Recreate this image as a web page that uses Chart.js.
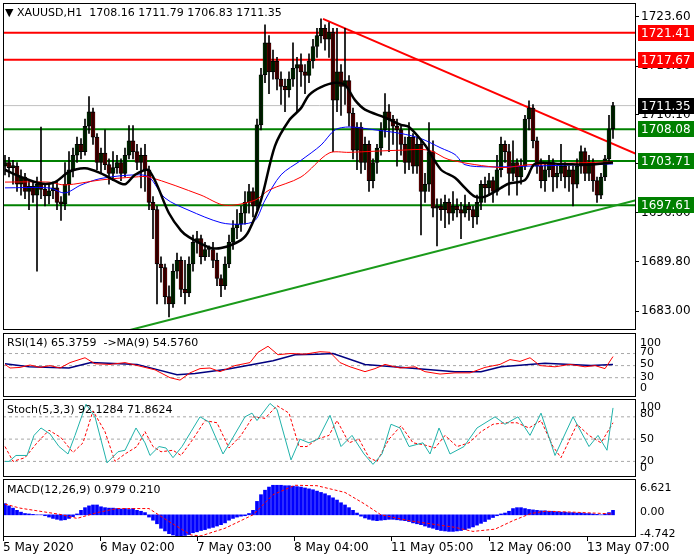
<!DOCTYPE html>
<html><head><meta charset="utf-8">
<script src="https://cdn.jsdelivr.net/npm/chart.js@4/dist/chart.umd.min.js"></script>
<style>
body{margin:0;width:700px;height:560px;background:#fff;position:relative;overflow:hidden;font-family:"DejaVu Sans",sans-serif}
canvas{position:absolute;left:0}
.t{position:absolute;font-size:11px;color:#000;white-space:pre}
</style></head><body>
<canvas id="cm" style="top:0px" width="700" height="333"></canvas>
<canvas id="cr" style="top:331px" width="700" height="68"></canvas>
<canvas id="cs" style="top:397px" width="700" height="82"></canvas>
<canvas id="cd" style="top:477px" width="700" height="83"></canvas>
<div class="t" style="left:5px;top:6px">▼ XAUUSD,H1  1708.16 1711.79 1706.83 1711.35</div>
<div class="t" style="left:7px;top:336px">RSI(14) 65.3759  -&gt;MA(9) 54.5760</div>
<div class="t" style="left:7px;top:403px">Stoch(5,3,3) 92.1284 71.8624</div>
<div class="t" style="left:7px;top:483px">MACD(12,26,9) 0.979 0.210</div>
<script>
const closes=[1703.5,1702.8,1703.0,1700.5,1701.5,1699.5,1700.2,1699.0,1700.5,1699.8,1698.9,1699.6,1700.0,1698.0,1697.8,1700.5,
1702.5,1704.5,1706.0,1705.0,1708.5,1710.5,1707.0,1703.5,1704.8,1703.2,1702.0,1702.8,1703.5,1702.0,1704.5,1706.5,
1705.0,1703.5,1704.5,1702.5,1698.0,1697.0,1689.5,1689.0,1685.0,1684.0,1688.5,1690.0,1686.0,1685.5,1689.5,1692.5,
1693.0,1690.5,1691.5,1691.5,1690.0,1687.5,1686.5,1689.5,1692.5,1694.5,1695.0,1696.5,1698.0,1699.5,1697.5,1708.7,
1715.6,1720.0,1716.0,1717.5,1715.0,1714.0,1713.5,1715.0,1716.5,1717.0,1716.0,1715.5,1717.5,1719.5,1721.0,1722.0,
1720.5,1721.5,1712.1,1716.0,1714.0,1714.8,1710.3,1705.2,1708.4,1703.5,1706.0,1701.0,1703.5,1705.5,1708.0,1710.5,
1709.5,1708.5,1708.0,1706.0,1703.5,1707.0,1703.0,1706.0,1699.5,1700.5,1705.0,1697.2,1697.5,1697.0,1698.0,1696.5,
1697.5,1697.0,1696.5,1697.5,1697.0,1696.0,1698.0,1700.5,1700.0,1701.0,1699.5,1702.5,1706.0,1705.0,1702.0,1703.5,
1701.5,1703.0,1709.5,1711.0,1706.5,1703.0,1701.0,1702.5,1703.5,1701.5,1702.0,1703.0,1701.5,1702.5,1700.5,1703.0,
1705.0,1702.0,1703.5,1701.0,1699.0,1701.5,1704.0,1708.16,1711.35];
const highs=[1704.5,1704.2,1703.8,1703.5,1702.5,1702.0,1701.0,1700.8,1701.5,1708.4,1700.5,1700.5,1700.8,1701.0,1698.8,1703.5,
1705.0,1705.5,1707.0,1706.8,1709.5,1712.6,1711.0,1707.5,1705.5,1708.0,1704.0,1705.0,1704.5,1704.0,1705.5,1708.6,
1708.6,1706.0,1705.5,1706.0,1703.0,1698.8,1697.5,1690.5,1689.5,1686.5,1689.5,1691.0,1690.5,1690.0,1690.5,1693.5,
1694.0,1693.5,1692.5,1692.0,1692.5,1691.0,1688.0,1690.5,1693.5,1695.5,1697.0,1697.5,1699.5,1700.5,1700.0,1709.5,
1716.5,1722.5,1721.0,1719.0,1718.0,1716.0,1715.0,1716.0,1720.0,1718.0,1718.5,1717.0,1718.5,1720.5,1722.0,1723.3,
1722.5,1722.8,1722.0,1722.0,1717.0,1722.0,1715.5,1711.0,1709.0,1709.0,1707.0,1706.5,1704.0,1706.0,1709.0,1713.0,
1711.5,1710.0,1709.5,1708.5,1707.0,1709.0,1707.5,1707.0,1706.5,1702.0,1709.0,1706.5,1698.5,1698.5,1699.0,1698.5,
1699.5,1698.5,1698.0,1699.0,1698.0,1697.5,1699.0,1701.0,1701.5,1702.0,1701.5,1704.5,1707.0,1706.5,1706.0,1706.5,
1704.0,1704.0,1710.0,1712.0,1711.5,1707.0,1704.0,1703.5,1704.5,1704.0,1703.0,1706.0,1703.5,1703.0,1703.0,1704.0,
1705.8,1705.5,1704.5,1704.0,1701.5,1702.0,1704.5,1710.0,1711.79];
const lows=[1701.8,1701.5,1700.5,1699.5,1699.0,1698.5,1697.0,1698.0,1688.5,1698.5,1697.5,1697.8,1698.5,1697.0,1695.5,1697.0,
1699.0,1701.5,1703.5,1704.0,1704.5,1707.5,1706.0,1702.5,1702.0,1702.5,1700.5,1701.0,1702.0,1701.0,1701.5,1704.0,
1704.0,1702.5,1700.0,1699.5,1697.0,1693.0,1684.0,1687.0,1684.0,1682.2,1683.5,1687.5,1685.0,1684.0,1685.0,1688.5,
1691.0,1689.5,1690.0,1690.5,1689.0,1686.5,1685.0,1686.0,1689.0,1691.5,1693.0,1694.0,1695.0,1696.5,1696.0,1697.0,
1708.0,1714.5,1713.0,1715.0,1713.5,1711.5,1710.5,1712.5,1714.0,1710.5,1714.0,1713.0,1714.5,1716.5,1718.0,1720.0,
1719.0,1718.0,1705.0,1710.5,1710.0,1711.5,1708.5,1704.0,1702.5,1702.0,1702.5,1699.5,1700.0,1702.0,1704.5,1707.0,
1705.0,1706.0,1703.0,1704.5,1702.0,1702.5,1702.0,1702.0,1693.5,1698.0,1699.5,1696.0,1692.0,1695.5,1694.5,1695.0,
1695.5,1696.0,1693.0,1696.0,1695.5,1694.5,1695.0,1697.0,1698.0,1699.0,1698.0,1699.0,1701.5,1703.5,1699.0,1701.0,
1699.0,1700.5,1702.5,1708.0,1705.5,1702.0,1700.0,1699.5,1701.5,1699.5,1700.0,1701.0,1700.0,1699.5,1697.5,1700.0,
1702.0,1701.0,1701.0,1699.5,1698.0,1698.5,1701.0,1703.5,1706.83];
const firstOpen=1703.0;
const maBlack=[[0,1702.5],[4,1701.5],[9,1700.6],[12.5,1700.8],[16,1702.2],[20,1702.7],[24,1702.0],[27.5,1701.0],[30,1700.5],[32.5,1701.8],[36,1702.4],[41,1696.5],[44,1694.1],[46,1693.2],[51,1691.8],[54,1691.7],[59,1692.8],[61,1694.1],[64,1698.3],[67.5,1705.8],[71,1709.3],[74,1711.0],[76,1712.8],[79,1713.9],[82.5,1714.5],[85,1714.2],[87.5,1712.1],[90,1710.8],[95,1709.7],[99,1708.7],[101,1708.4],[105,1705.9],[109,1702.5],[112.5,1701.4],[115,1700.0],[117.5,1698.8],[120,1698.8],[124,1700.0],[126,1700.6],[130,1701.1],[132.5,1703.3],[139,1703.3],[146,1703.2],[152,1703.5]];
const maBlue=[[0,1700.0],[11,1700.0],[15,1699.3],[19,1700.4],[24,1701.3],[32.5,1701.8],[36,1701.5],[40,1698.6],[46,1696.9],[54,1695.2],[59,1695.0],[62.5,1695.5],[65,1698.3],[69,1701.8],[74,1703.8],[79,1705.9],[82.5,1708.0],[86,1708.4],[92.5,1708.0],[99,1707.5],[104,1706.8],[109,1705.5],[112.5,1704.6],[115,1703.2],[121,1702.9],[131,1703.0],[152,1703.3]];
const maRed=[[0,1700.8],[11,1700.8],[15,1700.4],[24,1701.1],[32.5,1701.5],[36,1701.5],[49,1699.0],[55,1697.6],[62.5,1698.3],[66,1699.7],[74,1701.5],[81,1704.8],[86,1704.9],[99,1705.2],[106,1705.2],[111,1703.9],[124,1702.8],[131,1703.2],[152,1703.6]];
const resLevels=[1721.41,1717.67];
const supLevels=[1708.08,1703.71,1697.61];
const lastPrice=1711.35;
const redTrend=[[79.5,1723.3],[157.75,1704.7]];
const greenTrend=[[31.25,1680.4],[157.75,1698.3]];
const priceTicks=[1723.60,1716.80,1710.10,1703.30,1696.60,1689.80,1683.00];
const rsiLevels=[70,50,30];
const rsiTickPos=[88,72,53,31,13];const rsiTickLabels=['100','70','50','30','0'];
const stochLevels=[80,50,20];
const stochTickPos=[93,83,50,20,11];const stochTickLabels=['100','80','50','20','0'];
const macdTickPos=[6.0,0.6,-4.2];const macdTickLabels=['6.621','0.00','-4.742'];
const rsi=[[0,52],[1.25,46],[3.75,47],[6.25,51],[8.75,47],[11.25,50],[13.75,46],[16.25,55],[20,63],[22.5,53],[26.25,52],[30,55],[33.75,49],[37.5,43],[41.25,30],[43.75,26],[46.25,38],[48.75,45],[51.25,46],[53.75,40],[57.5,50],[61.25,55],[63.25,72],[65.75,82],[68.25,68],[71.25,70],[75,69],[78.75,73],[81.25,72],[83.75,55],[86.25,48],[90,40],[92.5,45],[95,52],[98.75,46],[102.5,48],[105,40],[108.75,36],[112.5,38],[116.25,38],[120,47],[123.75,52],[126.25,60],[128.75,57],[131.25,63],[133.75,50],[137.5,48],[141.25,52],[145,48],[147.5,50],[150,45],[152,65]];
const rsiMA=[[0,53],[6,48],[16,46],[21.5,55],[33,52],[43,35],[47.5,37],[55.5,44],[67,58],[72.5,68],[78,69],[82,70],[90,52],[101,46],[112.5,40],[119,40],[124,48],[135,54],[146.5,50],[152,52]];
const stochK=[[0,20],[1,20],[2.75,28],[5.5,28],[7.25,55],[9,65],[11.25,57],[13.5,40],[15.75,30],[17.5,55],[20.25,97],[22.5,80],[25.5,18],[28.25,33],[30,35],[32.75,65],[35,45],[36.25,28],[38.5,40],[40.25,38],[42,25],[44.25,40],[46.5,60],[48.75,80],[51,73],[54.5,30],[56.75,50],[60,80],[61.75,85],[63,75],[66.25,98],[68,90],[71.5,22],[73.75,50],[76,45],[78.25,50],[81.25,82],[84,40],[86.75,55],[89.75,30],[92,16],[94.25,30],[96.5,70],[98.75,65],[101,40],[104.5,45],[106.25,30],[108.5,65],[111.25,30],[114.75,40],[118,65],[122.5,80],[125,70],[128.25,80],[131.25,55],[134,85],[137.5,28],[142,80],[146,40],[148.25,55],[150.5,35],[152,92]];
const stochD=[[0,40],[2,20],[5,25],[8,45],[11,62],[14,52],[17,32],[19.5,45],[22,88],[25,60],[27.5,20],[30,30],[33,40],[35,60],[37,40],[39,33],[42,35],[44,28],[47,50],[50,75],[53,72],[56,38],[59,55],[62,80],[65,78],[68,95],[71,85],[73.5,40],[75.5,40],[78,50],[81,55],[83,75],[86,45],[88.5,50],[91,25],[93,20],[96,50],[99,68],[102,45],[105,42],[107.5,38],[110,55],[113,40],[116,45],[119,60],[122,70],[125,72],[128,72],[131,65],[134,75],[137,40],[139,25],[143,70],[146,55],[149,45],[152,72]];
const macdHist=[2.5,2.0,1.5,1.0,0.6,0.3,0.2,0.1,0,0,-0.2,-0.5,-0.8,-1.0,-1.2,-1.1,-0.8,-0.4,0.2,1.0,1.6,
2.0,2.2,2.2,1.8,1.6,1.5,1.5,1.4,1.3,1.4,1.2,1.4,1.0,0.8,0.5,-0.5,-1.2,-2.0,-3.0,-3.6,
-4.2,-4.5,-4.7,-4.7,-4.6,-4.4,-4.0,-3.8,-3.5,-3.3,-3.0,-2.8,-2.5,-2.2,-1.8,-1.2,-0.8,-0.5,-0.3,-0.2,0.3,
1.0,3.0,4.5,5.5,6.2,6.6,6.6,6.6,6.5,6.5,6.4,6.3,6.2,6.0,5.8,5.6,5.3,5.0,4.7,
4.3,3.8,3.3,2.7,2.2,1.6,1.0,0.4,-0.3,-0.7,-1.0,-1.2,-1.3,-1.2,-1.1,-1.0,-1.0,-1.1,-1.2,
-1.3,-1.5,-1.8,-2.0,-2.2,-2.5,-2.8,-3.0,-3.3,-3.5,-3.6,-3.7,-3.7,-3.6,-3.5,-3.3,-3.0,
-2.7,-2.3,-1.9,-1.5,-1.0,-0.6,-0.2,0.2,0.4,0.8,1.4,1.6,1.6,1.4,1.2,1.1,
1.0,0.9,0.9,0.8,0.8,0.7,0.6,0.6,0.5,0.5,0.4,0.4,0.3,0.3,0.2,0.1,0.0,0.2,0.5,1.0];
const macdSig=[[0,2.4],[3.75,1.5],[8.75,0.8],[13.75,0.1],[18,-0.8],[23,0.5],[28,1.4],[36,1.4],[41,-1.5],[46.5,-4.5],[49,-4.7],[55,-3.0],[62,0],[67,4.5],[72.5,6.6],[78,6.5],[85,5.0],[89.75,2.5],[94,0],[101,-1.3],[112.5,-2.8],[117,-3.7],[122.5,-3.2],[127,-1.3],[131.5,0.3],[135,0.8],[142,0.6],[152,0.2]];
const timeTickBars=[-0.5,23.75,48,72.25,96.5,121,145.5];
const timeTickLabels=['5 May 2020','6 May 02:00','7 May 03:00','8 May 04:00','11 May 05:00','12 May 06:00','13 May 07:00'];

Chart.defaults.font={family:'DejaVu Sans',size:11};Chart.defaults.color='#000';
Chart.defaults.animation=false;
const XMIN=-0.5,XMAX=157.75;
const pts=a=>a.map(p=>({x:p[0],y:p[1]}));
const frame={id:'frame',afterDraw(c){const a=c.chartArea,x=c.ctx;x.save();x.strokeStyle='#000';x.lineWidth=1;x.strokeRect(Math.round(a.left)+0.5,Math.round(a.top)+0.5,Math.round(a.right-a.left)-1,Math.round(a.bottom-a.top)-1);x.restore();}};
function xScale(display,extra){return Object.assign({type:'linear',offset:false,min:XMIN,max:XMAX,display:display,grid:{display:false,offset:false},ticks:{display:false}},extra||{});}
function yRight(min,max,ticks,extra){return Object.assign({position:'right',min:min,max:max,afterFit(s){s.width=64;s.paddingTop=0;s.paddingBottom=0;},afterBuildTicks(s){s.ticks=ticks.map(v=>({value:v}));},
 border:{display:false},grid:{drawOnChartArea:false,drawTicks:true,tickLength:3,color:'#000'},ticks:{padding:2,autoSkip:false}},extra||{});}
const lay={padding:{left:3,right:0,top:2,bottom:2}};
const noTicksGrid={drawOnChartArea:false,drawTicks:false};
// level lines drawn as datasets (dashed)
const lvl=(v)=>({type:'line',data:[{x:XMIN,y:v},{x:XMAX,y:v}],borderColor:'#a8a8a8',borderWidth:1,borderDash:[3,3],pointRadius:0,order:9});

const opens=closes.map((c,i)=>i?closes[i-1]:firstOpen);
const bodies=closes.map((c,i)=>({x:i,y:[opens[i],c]}));
const wicks=closes.map((c,i)=>({x:i,y:[lows[i],highs[i]]}));
const hl=(v,col,w)=>({type:'line',data:[{x:XMIN,y:v},{x:XMAX,y:v}],borderColor:col,borderWidth:w,pointRadius:0,order:5});
const tags={id:'tags',afterDraw(c){const y=c.scales.y,x=c.ctx;x.save();x.font='12px DejaVu Sans';x.textBaseline='middle';
 const list=[[lastPrice,'#000'],...resLevels.map(v=>[v,'#ff0000']),...supLevels.map(v=>[v,'#008000'])];
 list.forEach(([v,col])=>{const py=Math.round(y.getPixelForValue(v));x.fillStyle=col;x.fillRect(638,py-8,56,16);x.fillStyle='#fff';x.fillText(v.toFixed(2),641,py+1);});x.restore();}};
new Chart(document.getElementById('cm'),{data:{datasets:[
 hl(lastPrice,'#c0c0c0',1),
 ...resLevels.map(v=>hl(v,'#ff0000',2)),
 ...supLevels.map(v=>hl(v,'#008000',2)),
 {type:'line',data:pts(redTrend),borderColor:'#ff0000',borderWidth:2,pointRadius:0,order:4},
 {type:'line',data:pts(greenTrend),borderColor:'#1a9a1a',borderWidth:2,pointRadius:0,order:4},
 {type:'line',data:pts(maRed),borderColor:'#ff0000',borderWidth:1,pointRadius:0,tension:0.3,order:2},
 {type:'line',data:pts(maBlue),borderColor:'#0000ff',borderWidth:1,pointRadius:0,tension:0.3,order:2},
 {type:'line',data:pts(maBlack),borderColor:'#000',borderWidth:2.5,pointRadius:0,tension:0.3,order:1},
 {type:'bar',data:wicks,backgroundColor:'#000',barThickness:1,order:3,grouped:false},
 {type:'bar',data:bodies,backgroundColor:bodies.map(b=>b.y[1]>=b.y[0]?'#008000':'#ff0000'),borderColor:'#000',borderWidth:1,borderSkipped:false,barThickness:4,order:3,grouped:false,minBarLength:2}
]},options:{responsive:false,layout:{padding:{left:3,right:0,top:3,bottom:3}},plugins:{legend:{display:false},tooltip:{enabled:false}},
 scales:{x:xScale(false),y:yRight(1680.4,1725.5,priceTicks,{ticks:{padding:2,autoSkip:false,font:{family:'DejaVu Sans',size:12},callback:v=>v.toFixed(2)}})}},plugins:[frame,tags]});

new Chart(document.getElementById('cr'),{data:{datasets:[
 ...rsiLevels.map(lvl),
 {type:'line',data:pts(rsi),borderColor:'#ff0000',borderWidth:1,pointRadius:0},
 {type:'line',data:pts(rsiMA),borderColor:'#000080',borderWidth:1.5,pointRadius:0}]},
 options:{responsive:false,layout:lay,plugins:{legend:{display:false},tooltip:{enabled:false}},
 scales:{x:xScale(false),y:yRight(-2,104,rsiTickPos,{grid:noTicksGrid,ticks:{padding:4,autoSkip:false,callback:(v,i)=>rsiTickLabels[i]}})}},plugins:[frame]});
new Chart(document.getElementById('cs'),{data:{datasets:[
 ...stochLevels.map(lvl),
 {type:'line',data:pts(stochK),borderColor:'#20b2aa',borderWidth:1,pointRadius:0},
 {type:'line',data:pts(stochD),borderColor:'#ff0000',borderWidth:1,borderDash:[3,2],pointRadius:0}]},
 options:{responsive:false,layout:lay,plugins:{legend:{display:false},tooltip:{enabled:false}},
 scales:{x:xScale(false),y:yRight(-1,104,stochTickPos,{grid:noTicksGrid,ticks:{padding:4,autoSkip:false,callback:(v,i)=>stochTickLabels[i]}})}},plugins:[frame]});
new Chart(document.getElementById('cd'),{data:{datasets:[
 {type:'line',data:pts(macdSig),borderColor:'#ff0000',borderWidth:1,borderDash:[3,2],pointRadius:0,order:1},
 {type:'bar',data:macdHist.map((v,i)=>({x:i,y:v})),backgroundColor:'#0000ff',barThickness:3,order:2}]},
 options:{responsive:false,layout:{padding:{left:3,right:0,top:2,bottom:0}},plugins:{legend:{display:false},tooltip:{enabled:false}},
 scales:{x:xScale(true,{afterBuildTicks(s){s.ticks=timeTickBars.map(v=>({value:v}));},afterFit(s){s.height=23;s.paddingLeft=0;s.paddingRight=0;},border:{display:false},
   grid:{display:true,drawOnChartArea:false,tickLength:4,color:'#000',offset:false},
   ticks:{display:true,autoSkip:false,maxRotation:0,align:'start',padding:0,font:{family:'DejaVu Sans',size:12},callback:(v,i)=>timeTickLabels[i]}}),
  y:yRight(-4.95,8.0,macdTickPos,{grid:noTicksGrid,ticks:{padding:4,autoSkip:false,callback:(v,i)=>macdTickLabels[i]}})}},plugins:[frame]});
</script></body></html>
